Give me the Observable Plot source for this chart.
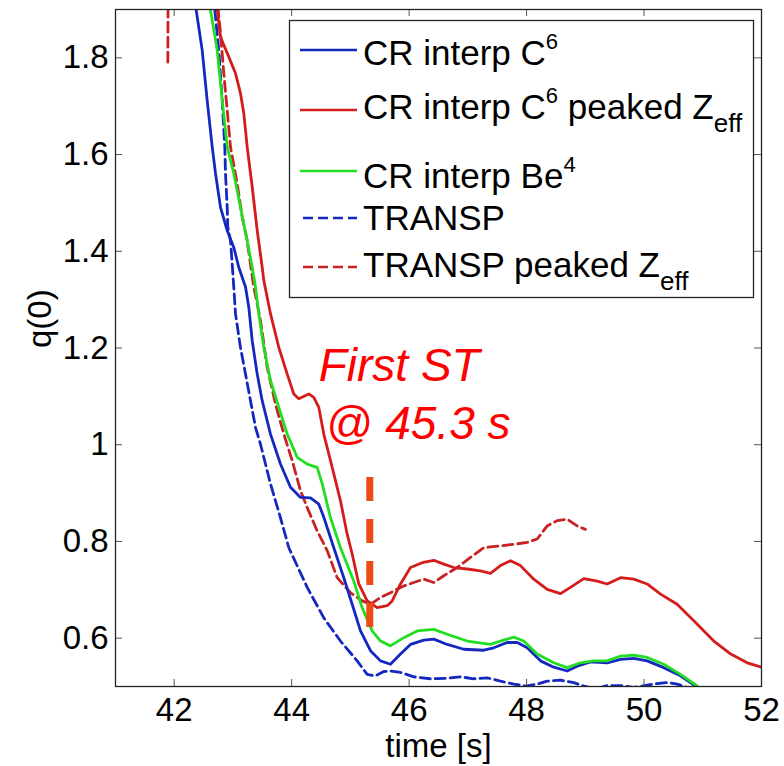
<!DOCTYPE html>
<html>
<head>
<meta charset="utf-8">
<script src="https://cdn.jsdelivr.net/npm/d3@7"></script>
<script src="https://cdn.jsdelivr.net/npm/@observablehq/plot@0.6"></script>
<style>
  html, body { margin: 0; padding: 0; background: #fff; }
  #chart svg { display: block; }
</style>
</head>
<body>
<div id="chart"></div>
<script>
// ---------- data ----------
const xTicks = [42, 44, 46, 48, 50, 52];
const yTicks = [0.6, 0.8, 1, 1.2, 1.4, 1.6, 1.8];

// legend labels: [text, 0 normal | 1 superscript | -1 subscript]
const seriesLabels = [
  [["CR interp C", 0], ["6", 1]],
  [["CR interp C", 0], ["6", 1], [" peaked Z", 0], ["eff", -1]],
  [["CR interp Be", 0], ["4", 1]],
  [["TRANSP", 0]],
  [["TRANSP peaked Z", 0], ["eff", -1]]
];

// [time (s), q(0)]
const crC6 = [
  [42.311,1.961],[42.374,1.899],[42.476,1.816],[42.561,1.712],[42.647,1.616],[42.703,1.561],
  [42.788,1.491],[42.902,1.443],[43.014,1.408],[43.099,1.367],[43.214,1.326],[43.270,1.284],
  [43.328,1.215],[43.413,1.146],[43.498,1.091],[43.639,1.022],[43.809,0.960],[43.980,0.912],
  [44.150,0.891],[44.320,0.890],[44.462,0.877],[44.547,0.850],[44.717,0.787],[44.887,0.725],
  [45.030,0.670],[45.172,0.615],[45.342,0.574],[45.512,0.553],[45.682,0.546],[45.853,0.567],
  [46.023,0.587],[46.249,0.596],[46.420,0.598],[46.648,0.587],[46.931,0.577],[47.271,0.575],
  [47.441,0.580],[47.669,0.591],[47.840,0.591],[48.010,0.580],[48.237,0.553],[48.463,0.540],
  [48.691,0.532],[48.861,0.542],[49.088,0.551],[49.372,0.549],[49.599,0.556],[49.825,0.558],
  [50.053,0.553],[50.335,0.539],[50.620,0.522],[50.876,0.501]
];

const crC6Peaked = [
  [42.703,1.961],[42.732,1.899],[42.788,1.843],[42.929,1.802],[43.043,1.768],[43.128,1.727],
  [43.185,1.685],[43.242,1.616],[43.328,1.533],[43.413,1.443],[43.498,1.367],[43.525,1.340],
  [43.639,1.271],[43.781,1.201],[43.924,1.146],[44.036,1.105],[44.121,1.095],[44.291,1.105],
  [44.376,1.098],[44.462,1.077],[44.547,1.022],[44.690,0.953],[44.831,0.884],[44.945,0.815],
  [45.030,0.774],[45.143,0.712],[45.286,0.677],[45.456,0.663],[45.626,0.667],[45.711,0.677],
  [45.853,0.712],[46.023,0.746],[46.222,0.756],[46.420,0.761],[46.590,0.753],[46.760,0.746],
  [46.988,0.743],[47.215,0.739],[47.385,0.734],[47.555,0.750],[47.726,0.760],[47.896,0.750],
  [48.122,0.722],[48.351,0.701],[48.577,0.692],[48.747,0.705],[48.974,0.723],[49.202,0.718],
  [49.372,0.712],[49.599,0.725],[49.825,0.722],[50.053,0.712],[50.281,0.691],[50.564,0.670],
  [50.847,0.636],[51.188,0.594],[51.477,0.567],[51.756,0.549],[52.000,0.540]
];

const crBe4 = [
  [42.566,1.961],[42.618,1.899],[42.732,1.816],[42.817,1.712],[42.902,1.616],[43.014,1.561],
  [43.128,1.491],[43.242,1.422],[43.328,1.367],[43.384,1.326],[43.440,1.271],[43.525,1.201],
  [43.639,1.133],[43.781,1.077],[43.924,1.022],[44.094,0.974],[44.264,0.960],[44.434,0.953],
  [44.520,0.919],[44.661,0.849],[44.831,0.787],[45.057,0.718],[45.200,0.663],[45.371,0.615],
  [45.512,0.594],[45.682,0.584],[45.909,0.601],[46.137,0.615],[46.420,0.618],[46.648,0.608],
  [46.988,0.594],[47.385,0.587],[47.555,0.594],[47.782,0.602],[47.952,0.594],[48.180,0.567],
  [48.463,0.549],[48.691,0.539],[48.918,0.549],[49.144,0.553],[49.372,0.553],[49.599,0.563],
  [49.825,0.565],[50.053,0.560],[50.335,0.546],[50.620,0.525],[50.904,0.501]
];

const transp = [
  [42.635,1.961],[42.691,1.899],[42.759,1.816],[42.817,1.712],[42.861,1.616],[42.873,1.561],
  [42.902,1.491],[42.912,1.450],[42.958,1.422],[42.987,1.374],[43.014,1.326],[43.043,1.271],
  [43.128,1.201],[43.214,1.146],[43.299,1.091],[43.384,1.036],[43.469,1.001],[43.639,0.919],
  [43.809,0.849],[43.951,0.787],[44.264,0.705],[44.547,0.642],[44.831,0.594],[45.115,0.553],
  [45.286,0.525],[45.427,0.522],[45.568,0.531],[45.682,0.532],[45.853,0.529],[46.079,0.520],
  [46.363,0.516],[46.648,0.517],[46.874,0.520],[47.101,0.516],[47.329,0.518],[47.555,0.511],
  [47.782,0.505],[47.981,0.501],[48.180,0.505],[48.351,0.511],[48.577,0.513],[48.804,0.508],
  [48.974,0.501],[49.173,0.495],[49.372,0.502],[49.599,0.502],[49.825,0.498],[50.053,0.503],
  [50.223,0.506],[50.393,0.508],[50.564,0.505],[50.734,0.498]
];

const transpPeaked = [
  [41.891,1.791],[41.900,2.100],[42.660,2.050],[42.749,1.899],[42.788,1.851],[42.844,1.768],
  [42.902,1.692],[42.958,1.616],[43.072,1.540],[43.157,1.471],[43.242,1.422],[43.355,1.326],
  [43.469,1.257],[43.583,1.160],[43.724,1.084],[43.866,1.022],[44.009,0.967],[44.150,0.905],
  [44.264,0.870],[44.434,0.822],[44.605,0.781],[44.775,0.725],[45.001,0.694],[45.200,0.677],
  [45.342,0.670],[45.512,0.684],[45.682,0.694],[45.909,0.708],[46.079,0.715],[46.249,0.722],
  [46.420,0.715],[46.590,0.729],[46.818,0.746],[47.045,0.767],[47.271,0.787],[47.555,0.791],
  [47.782,0.794],[48.010,0.798],[48.180,0.805],[48.351,0.832],[48.521,0.843],[48.691,0.846],
  [48.861,0.832],[49.003,0.825]
];

// first sawtooth marker
const stTime = 45.33;
const stQ = [0.622, 0.932];
const stText = ["First ST", "@ 45.3 s"];

// ---------- rendering ----------
const BLUE = "#1428c0", RED = "#d41c1c", REDD = "#c82222", GREEN = "#22dd22", ORANGE = "#ee4a14";
const FONT = "'Liberation Sans', Arial, Helvetica, sans-serif";
const rows = pts => pts.map(([t, q]) => ({t, q}));

const seriesStyle = [
  {data: crC6, color: BLUE, dash: null},
  {data: crC6Peaked, color: RED, dash: null},
  {data: crBe4, color: GREEN, dash: null},
  {data: transp, color: BLUE, dash: "10,5"},
  {data: transpPeaked, color: REDD, dash: "10,5"}
];

const W = 784, H = 766, ML = 115, MR = 23, MT = 9, MB = 80;
const frameW = W - ML - MR, frameH = H - MT - MB;

const lineMarks = [3, 4, 0, 2, 1].map(i => {
  const s = seriesStyle[i];
  return Plot.line(rows(s.data), {
    x: "t", y: "q", stroke: s.color, strokeWidth: 2.8,
    strokeDasharray: s.dash, clip: true
  });
});

const chart = Plot.plot({
  width: W, height: H,
  marginLeft: ML, marginRight: MR, marginTop: MT, marginBottom: MB,
  x: {domain: [41, 52]},
  y: {domain: [0.5, 1.9]},
  style: {fontFamily: FONT, fontSize: "33px", color: "#000", background: "#fff", overflow: "visible"},
  marks: [
    ...lineMarks,
    Plot.ruleX([stTime], {y1: stQ[0], y2: stQ[1], stroke: ORANGE, strokeWidth: 7, strokeDasharray: "24,18"}),
    Plot.text(stText, {
      text: d => d, x: [44.46, 44.58], y: [1.1325, 1.0124],
      textAnchor: "start", lineAnchor: "bottom", fill: "#ff0000",
      fontSize: 46, fontStyle: "italic"
    }),
    Plot.ruleX(xTicks, {insetTop: frameH - 7, stroke: "#555", strokeWidth: 1}),
    Plot.ruleX(xTicks, {insetBottom: frameH - 7, stroke: "#555", strokeWidth: 1}),
    Plot.ruleY(yTicks, {insetRight: frameW - 7, stroke: "#555", strokeWidth: 1}),
    Plot.ruleY(yTicks, {insetLeft: frameW - 7, stroke: "#555", strokeWidth: 1}),
    Plot.frame({stroke: "#222", strokeWidth: 1.3}),
    Plot.axisX({ticks: xTicks, tickSize: 0, tickPadding: 11, tickFormat: d => String(d), label: null}),
    Plot.axisY({ticks: yTicks, tickSize: 0, tickPadding: 7, tickFormat: d => String(d), label: null}),
    Plot.text(["time [s]"], {text: d => d, frameAnchor: "bottom", dy: 70, lineAnchor: "bottom", fontSize: 33}),
    Plot.text(["q(0)"], {text: d => d, frameAnchor: "left", dx: -75, rotate: -90, fontSize: 33})
  ]
});

// legend box (inside the axes, top right)
const svg = d3.select(chart);
const lg = svg.append("g")
  .attr("font-family", FONT).attr("font-size", 35).attr("fill", "#000")
  .attr("text-anchor", "start");
lg.append("rect").attr("x", 289.5).attr("y", 20.5).attr("width", 464).attr("height", 277)
  .attr("fill", "#fff").attr("stroke", "#222").attr("stroke-width", 1.3);
const sampleY = [50, 110, 171, 218, 267];
const textY = [65, 119, 188, 230, 277];
seriesLabels.forEach((parts, i) => {
  const s = seriesStyle[i];
  lg.append("line")
    .attr("x1", s.dash ? 303 : 300).attr("x2", 357)
    .attr("y1", sampleY[i]).attr("y2", sampleY[i])
    .attr("stroke", s.color).attr("stroke-width", 2.5)
    .attr("stroke-dasharray", s.dash);
  const t = lg.append("text").attr("x", 363).attr("y", textY[i])
    .attr("text-anchor", "start").style("white-space", "pre");
  let shift = 0;
  parts.forEach(([str, k]) => {
    const target = k === 1 ? -16 : k === -1 ? 13 : 0;
    const ts = t.append("tspan").attr("dy", target - shift).text(str);
    if (k === 1) ts.attr("font-size", 22);
    if (k === -1) ts.attr("font-size", 26);
    shift = target;
  });
});

document.getElementById("chart").appendChild(chart);
</script>
</body>
</html>
